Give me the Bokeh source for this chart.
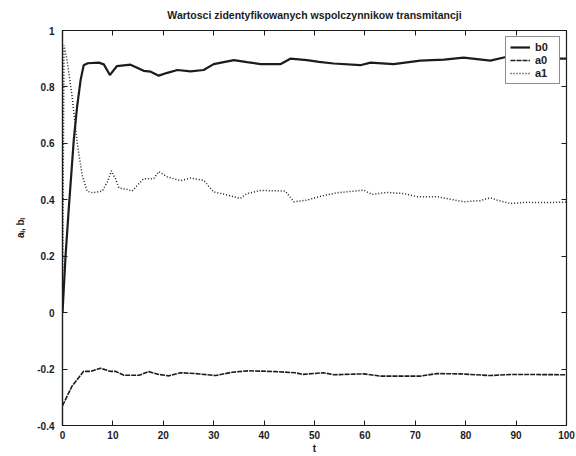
from bokeh.plotting import figure
from bokeh.models import Legend, LegendItem, LinearAxis, FixedTicker, Range1d
from bokeh.embed import file_html
from bokeh.resources import INLINE

# ---- data ----
b0_t = [0, 0.6, 1.25, 2.25, 2.9, 3.6, 4.2, 5.0, 7.2, 8.2, 9.4, 10.8, 13.5, 16.1, 17.5, 19.1,
        20.8, 22.8, 25.4, 28, 30, 34, 36.6, 39.3, 43.3, 45.2, 48.5, 50.9, 53.8, 59.1, 61.1,
        65.7, 71, 75.7, 79.6, 84.9, 88.2, 92, 96, 100]
b0_v = [0.0, 0.2, 0.37, 0.615, 0.73, 0.825, 0.877, 0.884, 0.886, 0.88, 0.842, 0.874, 0.879,
        0.857, 0.854, 0.84, 0.85, 0.86, 0.855, 0.86, 0.881, 0.895, 0.888, 0.881, 0.881, 0.9,
        0.895, 0.889, 0.883, 0.877, 0.886, 0.881, 0.893, 0.897, 0.904, 0.893, 0.907, 0.905,
        0.9, 0.9]

a0_t = [0, 1.9, 4.2, 5.6, 7.5, 9.5, 10.5, 12.2, 15.2, 17.1, 19.1, 21.1, 23.4, 26.4, 30.4,
        33.7, 37, 42.3, 46.2, 47.6, 51.8, 53.8, 59.8, 63.1, 71, 74.3, 78.9, 84.9, 88.9, 100]
a0_v = [-0.33, -0.26, -0.208, -0.208, -0.197, -0.208, -0.208, -0.222, -0.222, -0.209,
        -0.219, -0.224, -0.213, -0.216, -0.223, -0.211, -0.206, -0.209, -0.213, -0.219,
        -0.213, -0.22, -0.217, -0.225, -0.225, -0.216, -0.217, -0.223, -0.219, -0.22]

a1_t = [0, 0.3, 0.9, 1.9, 2.9, 3.9, 4.9, 6, 7.9, 8.9, 9.7, 10.5, 11.2, 12.8, 13.8, 16.1,
        18.1, 19.1, 20.8, 23.4, 25.4, 28, 30, 32.7, 35.3, 36.6, 39.3, 44.2, 45.9, 48.5,
        50.9, 54.5, 59.8, 61.4, 64.4, 67.7, 70.4, 74.3, 79.6, 82.9, 84.9, 86.2, 88.9,
        92.2, 95.5, 100]
a1_v = [0.0, 0.948, 0.895, 0.767, 0.604, 0.487, 0.43, 0.425, 0.431, 0.463, 0.503, 0.475,
        0.442, 0.437, 0.431, 0.475, 0.475, 0.5, 0.481, 0.468, 0.477, 0.469, 0.428, 0.417,
        0.405, 0.422, 0.433, 0.431, 0.393, 0.399, 0.411, 0.425, 0.434, 0.419, 0.426,
        0.422, 0.411, 0.411, 0.393, 0.397, 0.407, 0.399, 0.387, 0.391, 0.39, 0.392]

x_ticks = [0, 10, 20, 30, 40, 50, 60, 70, 80, 90, 100]
y_ticks = [-0.4, -0.2, 0, 0.2, 0.4, 0.6, 0.8, 1]
y_tick_labels = ["-0.4", "-0.2", "0", "0.2", "0.4", "0.6", "0.8", "1"]

title_text = "Wartosci zidentyfikowanych wspolczynnikow transmitancji"
x_label = "t"
y_label = "a\u1d62, b\u1d62"
series_names = ["b0", "a0", "a1"]

INK = "#1c1c1c"
FONT = "Liberation Sans"

p = figure(width=576, height=456, output_backend="svg", toolbar_location=None,
           x_range=Range1d(0, 100), y_range=Range1d(-0.4, 1.0),
           min_border_left=62, min_border_right=10, min_border_top=30, min_border_bottom=27)

p.title.text = title_text
p.title.align = "center"
p.title.text_font = FONT
p.title.text_font_size = "10.5px"
p.title.text_font_style = "bold"
p.title.text_color = INK
p.title.vertical_align = "top"
p.title.standoff = 16

p.grid.visible = False
p.outline_line_color = INK
p.outline_line_width = 1.2
p.background_fill_color = "white"
p.border_fill_color = "white"

for ax in (p.xaxis[0], p.yaxis[0]):
    ax.major_tick_in = 5
    ax.major_tick_out = 0
    ax.minor_tick_line_color = None
    ax.axis_line_color = INK
    ax.axis_line_width = 1.2
    ax.major_tick_line_color = INK
    ax.major_label_text_font = FONT
    ax.major_label_text_font_size = "10px"
    ax.major_label_text_font_style = "bold"
    ax.major_label_text_color = INK
    ax.axis_label_text_font = FONT
    ax.axis_label_text_font_size = "10px"
    ax.axis_label_text_font_style = "bold"
    ax.axis_label_text_color = INK

p.xaxis[0].ticker = FixedTicker(ticks=x_ticks)
p.yaxis[0].ticker = FixedTicker(ticks=y_ticks)
p.yaxis[0].major_label_overrides = {t: s for t, s in zip(y_ticks, y_tick_labels)}
p.xaxis[0].axis_label = x_label
p.yaxis[0].axis_label = y_label
p.xaxis[0].major_label_standoff = 5
p.xaxis[0].axis_label_standoff = 1
p.yaxis[0].major_label_standoff = 8
p.yaxis[0].axis_label_standoff = 8

for side, ticks in (("above", x_ticks), ("right", y_ticks)):
    ax = LinearAxis(ticker=FixedTicker(ticks=ticks), major_tick_in=5, major_tick_out=0,
                    minor_tick_line_color=None, major_label_text_font_size="1px",
                    major_label_text_color=None,
                    major_label_standoff=0, axis_line_color=INK, major_tick_line_color=INK)
    p.add_layout(ax, side)

r_b0 = p.line(b0_t, b0_v, line_color=INK, line_width=2.2)
r_a0 = p.line(a0_t, a0_v, line_color=INK, line_width=1.6, line_dash="5 1")
r_a1 = p.line(a1_t, a1_v, line_color=INK, line_width=1.5, line_dash="1 2")

legend = Legend(items=[LegendItem(label=series_names[0], renderers=[r_b0]),
                       LegendItem(label=series_names[1], renderers=[r_a0]),
                       LegendItem(label=series_names[2], renderers=[r_a1])],
                location="top_right", margin=6, padding=4, spacing=1,
                glyph_width=20, glyph_height=10, label_standoff=5,
                label_text_font=FONT, label_text_font_size="11px",
                label_text_font_style="bold", label_text_color=INK,
                label_height=10, border_line_color=INK, border_line_width=1.2,
                background_fill_alpha=1.0)
p.add_layout(legend, "center")

open("out.html", "w").write(file_html(p, INLINE))
